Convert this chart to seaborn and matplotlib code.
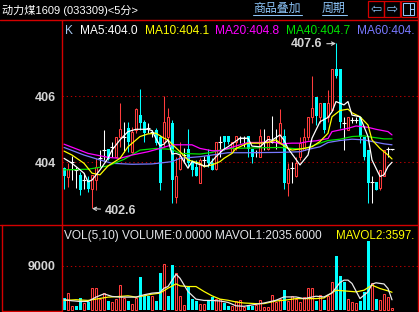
import numpy as np
import matplotlib
matplotlib.use("Agg")
import matplotlib.pyplot as plt
from matplotlib.lines import Line2D
from matplotlib.patches import Rectangle
import seaborn as sns

# ---------------- data ----------------
title = "动力煤1609 (033309)<5分>"
price_ticks = [404, 406]
vol_ticks = [9000]

opens = [403.82, 403.55, 404.02, 403.77, 403.62, 403.46, 403.46, 403.18, 403.46, 404.12,
         404.37, 404.39, 404.47, 404.17, 404.78, 404.78, 405.03, 404.32, 404.98, 405.43,
         405.23, 405.03, 404.93, 404.98, 404.78, 404.63, 404.78, 405.18, 402.96, 403.79,
         404.22, 404.40, 403.97, 403.87, 403.38, 404.07, 404.19, 403.99, 403.79, 404.63,
         404.80, 404.80, 404.32, 404.63, 404.73, 404.73, 404.80, 404.39, 404.32, 404.17,
         404.63, 404.39, 404.60, 404.60, 404.60, 404.80, 403.38, 403.82, 403.57, 404.17,
         404.37, 404.78, 405.38, 405.99, 405.38, 405.79, 405.38, 405.59, 406.82, 406.82,
         405.18, 404.98, 405.28, 405.28, 405.38, 404.78, 404.37, 403.41, 403.41, 403.21,
         403.57, 404.39, 404.39]
highs = [403.87, 403.97, 404.19, 403.87, 403.72, 403.67, 403.57, 403.62, 404.12, 404.37,
         404.98, 404.39, 404.63, 404.78, 405.79, 405.23, 405.23, 405.08, 405.64, 406.21,
         405.28, 405.18, 404.98, 405.03, 404.83, 406.01, 405.64, 405.28, 404.17, 404.63,
         404.42, 405.00, 404.07, 404.07, 404.12, 404.19, 404.39, 404.12, 404.63, 404.80,
         404.80, 404.80, 404.63, 404.80, 404.80, 404.80, 404.80, 404.39, 404.37, 405.00,
         405.00, 404.80, 405.40, 405.00, 405.61, 405.00, 403.99, 404.02, 404.17, 404.78,
         405.03, 405.38, 406.60, 405.99, 405.79, 405.79, 406.19, 406.82, 407.60, 406.82,
         405.38, 405.38, 405.38, 405.38, 405.38, 404.78, 404.37, 403.57, 403.41, 403.77,
         404.37, 404.47, 404.40]
lows = [403.19, 403.26, 403.46, 403.21, 403.01, 403.18, 403.11, 402.60, 403.16, 403.87,
        404.07, 404.07, 404.17, 404.15, 404.47, 404.32, 404.32, 404.27, 404.88, 404.98,
        404.63, 404.88, 404.78, 404.53, 403.16, 404.47, 404.68, 402.76, 402.76, 403.77,
        403.97, 403.87, 403.57, 403.57, 403.36, 403.87, 403.87, 403.77, 403.77, 404.17,
        404.37, 404.55, 404.30, 404.37, 404.58, 404.47, 404.17, 403.99, 404.17, 404.17,
        404.37, 404.37, 404.58, 404.39, 404.58, 403.18, 402.98, 403.38, 403.55, 404.07,
        404.37, 404.68, 405.18, 405.13, 405.18, 404.88, 405.23, 405.54, 406.55, 405.03,
        404.37, 404.98, 405.20, 405.18, 404.58, 404.07, 402.76, 402.76, 403.16, 403.16,
        403.57, 404.17, 404.38]
closes = [403.57, 403.81, 404.02, 403.77, 403.16, 403.46, 403.18, 403.62, 403.87, 404.12,
          404.37, 404.09, 404.47, 404.78, 405.00, 404.78, 404.63, 404.93, 405.61, 405.18,
          404.88, 405.03, 404.93, 404.58, 403.36, 405.23, 405.38, 403.46, 403.57, 404.19,
          404.22, 403.99, 403.77, 403.57, 404.07, 404.07, 403.99, 403.77, 404.63, 404.63,
          404.60, 404.60, 404.63, 404.80, 404.73, 404.73, 404.39, 404.17, 404.32, 404.80,
          404.63, 404.80, 404.60, 404.60, 405.20, 403.38, 403.79, 403.82, 403.97, 404.58,
          404.78, 405.38, 405.64, 405.40, 405.79, 404.98, 405.79, 406.82, 406.60, 405.23,
          405.18, 405.38, 405.28, 405.28, 404.78, 404.17, 403.36, 403.41, 403.16, 403.77,
          404.37, 404.39, 404.39]

volumes = [2390, 3410, 820, 820, 2390, 1360, 1500, 4430, 4430, 2180,
           3410, 1840, 1500, 2180, 5110, 2390, 1840, 1230, 2390, 6680,
           2730, 2860, 2730, 1840, 7500, 9410, 2860, 9200, 7500, 2730,
           1020, 4910, 2180, 1840, 1230, 1160, 1840, 2590, 2180, 2180,
           1360, 850, 700, 1730, 1940, 500, 900, 700, 900, 1940,
           550, 550, 2980, 1590, 2280, 4150, 1730, 2770, 2280, 1590,
           2630, 4570, 4570, 1730, 2980, 2080, 2770, 5740, 11070, 6920,
           5740, 2280, 1590, 1380, 1730, 3670, 14190, 5400, 2280, 1940,
           3320, 2630, 350]
vol_up = [0, 1, 1, 0, 0, 1, 0, 1, 1, 1,
          1, 0, 1, 1, 1, 1, 0, 1, 1, 0,
          0, 0, 1, 0, 0, 1, 0, 0, 1, 1,
          1, 0, 0, 0, 1, 1, 0, 0, 1, 1,
          0, 0, 1, 1, 1, 1, 0, 0, 1, 1,
          1, 1, 1, 1, 1, 0, 1, 1, 1, 1,
          1, 1, 1, 0, 1, 0, 1, 1, 0, 0,
          0, 1, 1, 1, 0, 0, 0, 1, 0, 1,
          1, 1, 1]

ma5_idx = [0, 2, 5, 6, 7, 9, 11, 12, 14, 16, 18, 21, 22, 23, 24, 25, 26, 27, 28, 29,
           31, 32, 33, 35, 36, 38, 40, 41, 44, 46, 47, 49, 51, 52, 54, 55, 56, 59, 61, 62,
           64, 66, 67, 68, 70, 71, 72, 74, 76, 77, 79, 80, 81, 82]
ma5_val = [404.12, 403.97, 403.67, 403.41, 403.46, 403.77, 404.12, 404.37, 404.68, 404.93,
           405.00, 405.00, 404.96, 404.72, 404.50, 404.55, 404.68, 404.25, 404.27, 404.22,
           403.82, 404.02, 403.97, 403.89, 403.89, 404.17, 404.40, 404.47, 404.73, 404.73,
           404.49, 404.47, 404.69, 404.67, 404.83, 404.67, 404.42, 403.92, 404.22, 404.73,
           405.23, 405.36, 405.53, 405.84, 405.74, 405.84, 405.43, 405.38, 404.78, 404.07,
           403.57, 403.62, 403.87, 404.00]
ma10_idx = [0, 2, 5, 7, 9, 11, 14, 16, 19, 21, 23, 25, 26, 27, 29, 31, 34, 35, 37, 39,
            40, 42, 43, 46, 49, 51, 53, 54, 56, 57, 60, 62, 64, 66, 67, 69, 71, 72, 74, 76,
            77, 79, 81, 82]
ma10_val = [404.34, 404.22, 403.97, 403.67, 403.62, 403.89, 404.12, 404.47, 404.78, 404.86,
            404.88, 404.73, 404.68, 404.55, 404.32, 404.07, 403.97, 403.87, 403.92, 404.02,
            404.12, 404.27, 404.42, 404.58, 404.58, 404.60, 404.68, 404.58, 404.42, 404.37,
            404.42, 404.47, 404.63, 404.88, 405.38, 405.57, 405.61, 405.50, 405.38, 405.13,
            404.68, 404.42, 404.22, 404.10]
ma20_idx = [0, 6, 11, 14, 17, 21, 24, 27, 29, 32, 34, 37, 39, 41, 44, 46, 49, 52, 54, 57,
            59, 61, 63, 66, 67, 71, 73, 76, 78, 81, 82]
ma20_val = [404.55, 404.27, 404.15, 404.12, 404.22, 404.32, 404.42, 404.53, 404.53, 404.53,
            404.42, 404.35, 404.35, 404.42, 404.53, 404.60, 404.60, 404.63, 404.56, 404.58,
            404.58, 404.63, 404.65, 404.72, 404.93, 405.03, 405.10, 405.06, 405.00, 404.93,
            404.83]
ma40_idx = [0, 6, 11, 15, 19, 23, 27, 29, 34, 37, 39, 42, 49, 54, 59, 61, 64, 66, 69, 72,
            75, 77, 80, 82]
ma40_val = [403.77, 403.79, 403.89, 404.09, 404.37, 404.42, 404.39, 404.27, 404.25, 404.30,
            404.37, 404.42, 404.44, 404.45, 404.40, 404.45, 404.58, 404.66, 404.70, 404.78,
            404.80, 404.76, 404.71, 404.71]
ma60_idx = [0, 5, 9, 12, 17, 22, 27, 29, 34, 37, 41, 46, 54, 59, 61, 64, 66, 69, 72, 75,
            77, 80, 82]
ma60_val = [404.45, 404.22, 404.07, 403.97, 403.94, 403.95, 404.02, 404.12, 404.17, 404.22,
            404.29, 404.29, 404.30, 404.32, 404.39, 404.47, 404.60, 404.66, 404.70, 404.68,
            404.63, 404.56, 404.53]

mavol1_idx = [0, 2, 4, 6, 8, 10, 12, 14, 16, 18, 20, 22, 24, 25, 26, 28, 29, 31, 33, 35,
              37, 39, 41, 43, 45, 48, 50, 53, 55, 58, 60, 63, 65, 67, 69, 70, 71, 72, 74, 76,
              77, 78, 80, 81, 82]
mavol1_val = [2050, 1840, 1700, 1700, 2590, 3270, 2730, 2590, 2590, 2590, 3070, 3410, 3550,
              4430, 4770, 7300, 6480, 3750, 2180, 1910, 1900, 1800, 1500, 800, 700, 1110,
              1380, 1940, 2630, 2630, 2280, 2770, 2630, 3460, 5600, 6090, 6090, 5400, 2300,
              3670, 5260, 5540, 5300, 4360, 2035.6]
mavol2_idx = [0, 3, 6, 8, 11, 14, 16, 18, 20, 22, 24, 26, 28, 29, 31, 33, 35, 37, 39, 41,
              43, 45, 48, 50, 53, 55, 58, 60, 63, 65, 68, 70, 73, 75, 77, 79, 81, 82]
mavol2_val = [1910, 2050, 1910, 2180, 2590, 2730, 2860, 2590, 2860, 3200, 3410, 4430, 5320,
              4910, 4770, 4770, 3750, 2860, 2180, 1940, 1590, 1380, 1250, 1250, 1800, 1940,
              2280, 2280, 2280, 2420, 4010, 3880, 3670, 4010, 5050, 4360, 3880, 3597]

ma_labels = ["K", "MA5:404.0", "MA10:404.1", "MA20:404.8", "MA40:404.7", "MA60:404."]
vol_labels = ["VOL(5,10) VOLUME:0.0000 MAVOL1:2035.6000", "MAVOL2:3597."]

# ---------------- style ----------------
RED = "#ff3c3c"
CYAN = "#00ffff"
FRAME = "#d40000"
GRID = "#b40000"
LABEL = "#d4d4d4"
LINK = "#8cc4f8"
MA_COLORS = ["#ffffff", "#ffff00", "#ff00ff", "#00e000", "#7878ff"]

sns.set_theme(style="dark", rc={"axes.facecolor": "black", "figure.facecolor": "black",
                                "savefig.facecolor": "black", "axes.grid": False})
plt.rcParams["font.family"] = ["Liberation Sans", "DejaVu Sans"]

W, H = 419, 312
fig = plt.figure(figsize=(W / 100, H / 100), dpi=100)


def fx(x):
    return x / W


def fy(y):
    return 1 - y / H


ax = fig.add_axes([fx(62), fy(224.5), fx(417.5) - fx(62), fy(19.5) - fy(224.5)])
axv = fig.add_axes([fx(62), fy(311), fx(417.5) - fx(62), fy(224.5) - fy(311)])

o = np.array(opens)
h = np.array(highs)
l = np.array(lows)
c = np.array(closes)
idx = np.arange(len(o))
up = c > o
dn = c < o
fl = c == o

# wicks
ax.vlines(idx[up], l[up], h[up], color=RED, lw=0.75, zorder=1.5)
ax.vlines(idx[dn], l[dn], h[dn], color=CYAN, lw=0.75, zorder=1.5)
ax.vlines(idx[fl], l[fl], h[fl], color="white", lw=0.75, zorder=1.5)
# bodies
ax.bar(idx[up], (c - o)[up], bottom=o[up], width=0.5, facecolor="black",
       edgecolor=RED, linewidth=0.75, zorder=2)
ax.bar(idx[dn], (o - c)[dn], bottom=c[dn], width=0.75, color=CYAN, linewidth=0, zorder=2)
ax.hlines(c[fl], idx[fl] - 0.4, idx[fl] + 0.4, color="white", lw=0.8, zorder=2)

# moving averages
for xs, ys, col in zip([ma60_idx, ma40_idx, ma20_idx, ma10_idx, ma5_idx],
                       [ma60_val, ma40_val, ma20_val, ma10_val, ma5_val],
                       MA_COLORS[::-1]):
    sns.lineplot(x=xs, y=ys, ax=ax, color=col, lw=0.9, zorder=3, legend=False)

for t in price_ticks:
    ax.axhline(t, color=GRID, lw=0.75, ls=(0, (1.3, 2.7)), zorder=0.5)

ax.set_xlim(-0.5, 88.375)
ax.set_ylim(402.115, 408.327)

# annotations of extremes
imax = int(np.argmax(h))
imin = int(np.argmin(l))
ax.annotate(f"{h[imax]:.1f}", xy=(imax, h[imax]), xytext=(-10, -0.5), textcoords="offset points",
            ha="right", va="center", color=LABEL, fontsize=9, fontweight="bold",
            arrowprops=dict(arrowstyle="->", color=LABEL, lw=0.8, shrinkA=1, shrinkB=0,
                            mutation_scale=6))
ax.annotate(f"{l[imin]:.1f}", xy=(imin, l[imin]), xytext=(9.5, -1.5), textcoords="offset points",
            ha="left", va="center", color=LABEL, fontsize=9, fontweight="bold",
            arrowprops=dict(arrowstyle="->", color=LABEL, lw=0.8, shrinkA=1, shrinkB=0,
                            mutation_scale=6))

# volume panel
v = np.array(volumes)
vu = np.array(vol_up) == 1
axv.bar(idx[vu], v[vu], width=0.5, facecolor="black", edgecolor=RED, linewidth=0.75, zorder=2)
axv.bar(idx[~vu], v[~vu], width=0.75, color=CYAN, linewidth=0, zorder=2)
sns.lineplot(x=mavol2_idx, y=mavol2_val, ax=axv, color="#ffff00", lw=0.9, zorder=3, legend=False)
sns.lineplot(x=mavol1_idx, y=mavol1_val, ax=axv, color="#e8e8e8", lw=0.9, zorder=3, legend=False)
for t in vol_ticks:
    axv.axhline(t, color=GRID, lw=0.75, ls=(0, (1.3, 2.7)), zorder=0.5)
axv.set_xlim(-0.5, 88.375)
axv.set_ylim(-268, 17547)

for a, ticks in [(ax, price_ticks), (axv, vol_ticks)]:
    a.set_facecolor("black")
    for s in a.spines.values():
        s.set_visible(False)
    a.set_xticks([])
    a.set_yticks(ticks)
    a.set_yticklabels([str(t) for t in ticks])
    a.tick_params(axis="y", length=0, pad=4.5, labelcolor=LABEL, labelsize=9)
    for lab in a.get_yticklabels():
        lab.set_fontweight("bold")
    a.set_xlabel("")
    a.set_ylabel("")

# header texts
ma_text_colors = ["#a8c8f0"] + MA_COLORS
for x, s, col in zip([64.5, 80, 145, 215, 286, 357], ma_labels, ma_text_colors):
    ax.text(fx(x), fy(34), s, color=col, fontsize=8.6, transform=fig.transFigure,
            ha="left", va="baseline")
axv.text(fx(64), fy(239), vol_labels[0], color="#e4e6ea", fontsize=8.6,
         transform=fig.transFigure, ha="left", va="baseline")
axv.text(fx(336), fy(239), vol_labels[1], color="#ffff00", fontsize=8.4,
         transform=fig.transFigure, ha="left", va="baseline")

# title bar
fig.text(fx(2), fy(13.5), title, family=["Liberation Sans", "Noto Sans CJK SC"],
         fontsize=8, color="white", ha="left", va="baseline")
fig.text(fx(253), fy(12.3), "商品叠加", family=["Noto Sans CJK SC", "DejaVu Sans"],
         fontsize=8.6, color=LINK, ha="left", va="baseline")
fig.text(fx(322), fy(12.3), "周期", family=["Noto Sans CJK SC", "DejaVu Sans"],
         fontsize=8.6, color=LINK, ha="left", va="baseline")
for x0, x1 in [(253, 302), (322, 347)]:
    fig.add_artist(Line2D([fx(x0), fx(x1)], [fy(15), fy(15)], color=LINK, lw=0.75))

for x0 in [368, 384, 400.5]:
    fig.add_artist(Rectangle((fx(x0), fy(17)), 16 / W, 16 / H, fill=False,
                             edgecolor=FRAME, lw=0.9, transform=fig.transFigure))
fig.text(fx(376), fy(9), "\u21e6", family="DejaVu Sans", fontsize=9.5, color=LINK,
         ha="center", va="center")
fig.text(fx(392), fy(9), "\u21e8", family="DejaVu Sans", fontsize=9.5, color=LINK,
         ha="center", va="center")
fig.add_artist(Rectangle((fx(403), fy(15)), 11 / W, 12 / H, fill=False,
                         edgecolor=LINK, lw=0.75, transform=fig.transFigure))
fig.add_artist(Line2D([fx(409.5), fx(409.5)], [fy(3), fy(15)], color=LINK, lw=0.75))
fig.add_artist(Line2D([fx(409.5), fx(414)], [fy(9), fy(9)], color=LINK, lw=0.75))

# frame lines
frame = [((0, 419), (19.5, 19.5)), ((62, 62), (19.5, 311)), ((417.5, 417.5), (0, 311)),
         ((0, 419), (224.5, 224.5)), ((1.5, 1.5), (224.5, 311)), ((1.5, 62), (311, 311))]
for xs, ys in frame:
    fig.add_artist(Line2D([fx(xs[0]), fx(xs[1])], [fy(ys[0]), fy(ys[1])], color=FRAME, lw=1.0))

fig.savefig("out.png", dpi=100, facecolor="black")
